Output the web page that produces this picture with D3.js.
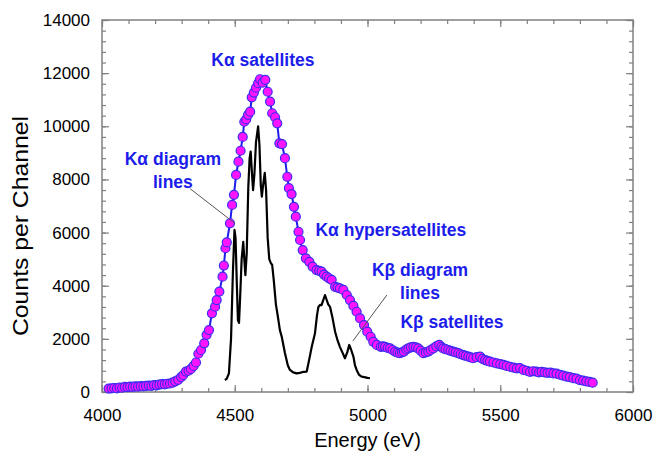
<!DOCTYPE html>
<html>
<head>
<meta charset="utf-8">
<script src="https://cdn.jsdelivr.net/npm/d3@7"></script>
<style>
  body { margin: 0; background: #fff; }
  text { font-family: "Liberation Sans", Arial, sans-serif; }
</style>
</head>
<body>
<div id="chart"></div>
<script>
// measured spectrum (blue line + magenta markers)
const satEnergy = [
  4025, 4036, 4046, 4056, 4066, 4076, 4086, 4096, 4106, 4116, 4126, 4136, 4146, 4156, 4166,
  4176, 4186, 4196, 4206, 4216, 4226, 4236, 4246, 4256, 4266, 4276, 4287, 4298, 4306, 4316,
  4326, 4335, 4345, 4354, 4363, 4373, 4385, 4394, 4403, 4414, 4426, 4432, 4442, 4454, 4459,
  4465, 4470, 4482, 4490, 4497, 4505, 4514, 4522, 4530, 4536, 4543, 4550, 4558, 4564, 4572,
  4580, 4588, 4595, 4605, 4615, 4624, 4633, 4641, 4652, 4660, 4668, 4678, 4689, 4698, 4704,
  4714, 4723, 4730, 4740, 4746, 4756, 4768, 4781, 4793, 4808, 4818, 4827, 4836, 4846, 4855,
  4865, 4878, 4887, 4896, 4909, 4922, 4934, 4947, 4959, 4972, 4987, 4999, 5012, 5022, 5035,
  5050, 5058, 5066, 5076, 5085, 5094, 5104, 5113, 5122, 5130, 5137, 5146, 5154, 5163, 5173,
  5182, 5191, 5200, 5210, 5220, 5229, 5238, 5248, 5259, 5270, 5278, 5285, 5294, 5304, 5313,
  5323, 5332, 5342, 5351, 5361, 5370, 5380, 5389, 5398, 5411, 5424, 5433, 5443, 5452, 5461,
  5474, 5487, 5500, 5512, 5524, 5537, 5550, 5562, 5574, 5587, 5600, 5612, 5624, 5636, 5646,
  5656, 5667, 5678, 5689, 5700, 5712, 5725, 5737, 5750, 5762, 5775, 5787, 5800, 5812, 5824,
  5836, 5848
];
const satCounts = [
  130, 140, 150, 140, 170, 160, 190, 180, 200, 190, 210, 200, 220, 210, 230,
  240, 230, 260, 250, 280, 300, 290, 310, 320, 350, 400, 460, 560, 640, 770,
  800, 870, 980, 1110, 1440, 1580, 1830, 2150, 2330, 2960, 3210, 3460, 3780, 4340, 4760,
  5410, 5630, 6350, 7040, 7420, 8170, 8670, 9080, 9600, 10170, 10260, 10430, 10550, 11090, 11270,
  11450, 11620, 11770, 11640, 11750, 11300, 10930, 10490, 10340, 10110, 9360, 9330, 8800, 8100, 7670,
  7450, 6970, 6600, 6030, 5720, 5340, 5030, 4900, 4720, 4590, 4560, 4530, 4420, 4340, 4280,
  4220, 3960, 3930, 3900, 3840, 3650, 3460, 3240, 3020, 2770, 2520, 2270, 2080, 1890, 1770,
  1700, 1720, 1700, 1660, 1640, 1580, 1520, 1480, 1460, 1490, 1520, 1600, 1640, 1680, 1700,
  1680, 1640, 1560, 1460, 1490, 1520, 1580, 1640, 1720, 1770, 1700, 1640, 1610, 1580, 1550,
  1520, 1490, 1460, 1420, 1390, 1360, 1330, 1300, 1270, 1310, 1330, 1250, 1200, 1170, 1140,
  1110, 1080, 1050, 1020, 980, 950, 920, 890, 900, 830, 800, 760, 780, 770, 740,
  760, 740, 720, 730, 700, 690, 650, 620, 580, 560, 520, 500, 450, 430, 400,
  380, 350
];

// high resolution spectrum (black line)
const diagEnergy = [
  4463, 4470, 4478, 4486, 4493, 4499, 4503, 4508, 4512, 4516, 4520, 4526, 4532, 4536, 4540,
  4545, 4551, 4556, 4560, 4565, 4569, 4574, 4580, 4588, 4593, 4598, 4602, 4607, 4613, 4618,
  4624, 4630, 4636, 4641, 4647, 4655, 4663, 4670, 4677, 4689, 4700, 4708, 4720, 4733, 4745,
  4760, 4771, 4780, 4790, 4802, 4810, 4815, 4821, 4827, 4833, 4840, 4845, 4852, 4859, 4868,
  4878, 4887, 4896, 4905, 4915, 4924, 4931, 4938, 4947, 4953, 4959, 4968, 4978, 4988, 5000,
  5009
];
const diagCounts = [
  450, 500, 700, 2000, 4500, 6100, 5800, 4000, 2700, 2600, 3500, 5000, 5650, 5000, 4400,
  5200, 7700, 8800, 9050, 8200, 7600, 8200, 9400, 10000, 9300, 7800, 7350, 7800, 8250, 7600,
  5800, 5000, 4850, 4780, 4200, 3300, 2800, 2330, 2080, 1470, 1000, 830, 740, 700, 720,
  760, 770, 1200, 1700, 2200, 2900, 3200, 3280, 3270, 3450, 3650, 3500, 3300, 3200, 2800,
  2270, 1950, 1700, 1500, 1270, 1500, 1770, 1600, 1330, 1000, 830, 650, 580, 560, 530,
  520
];

const xMajor = [4000, 4500, 5000, 5500, 6000];
const yMajor = [0, 2000, 4000, 6000, 8000, 10000, 12000, 14000];

// annotation anchors (energy, counts) = text centre / baseline
const labels = [
  { text: ["K\u03b1 satellites"], x: 4606, y: 12270 },
  { text: ["K\u03b1 diagram", "lines"], x: 4267, y: 8540 },
  { text: ["K\u03b1 hypersatellites"], x: 5088, y: 5870 },
  { text: ["K\u03b2 diagram", "lines"], x: 5198, y: 4370 },
  { text: ["K\u03b2 satellites"], x: 5318, y: 2410 }
];
const leaders = [
  { x1: 4332, y1: 7650, x2: 4500, y2: 6350 },
  { x1: 5073, y1: 3650, x2: 4945, y2: 1920 }
];

const width = 654, height = 458;
const margin = { top: 20, right: 21, bottom: 66, left: 102 };
const iw = width - margin.left - margin.right;
const ih = height - margin.top - margin.bottom;
const blue = "#1c1ceb";

const x = d3.scaleLinear().domain([4000, 6000]).range([0, iw]);
const y = d3.scaleLinear().domain([0, 14000]).range([ih, 0]);

const svg = d3.select("#chart").append("svg")
  .attr("width", width)
  .attr("height", height);

const g = svg.append("g")
  .attr("transform", `translate(${margin.left},${margin.top})`);

// ticks on all four sides, pointing inward
const tickColor = "#808080";
const xMinor = d3.range(4000, 6001, 100);
const yMinor = d3.range(0, 14001, 400);

function sideAxis(axis, tr) {
  const a = g.append("g").attr("transform", tr).call(axis);
  a.select(".domain").remove();
  a.selectAll("line").attr("stroke", tickColor).attr("stroke-width", 1.2);
  return a;
}

sideAxis(d3.axisTop(x).tickValues(xMinor).tickSize(4).tickFormat(""), `translate(0,${ih})`);
sideAxis(d3.axisTop(x).tickValues(xMajor).tickSize(7).tickFormat(""), `translate(0,${ih})`);
sideAxis(d3.axisBottom(x).tickValues(xMinor).tickSize(4).tickFormat(""), "translate(0,0)");
sideAxis(d3.axisBottom(x).tickValues(xMajor).tickSize(7).tickFormat(""), "translate(0,0)");
sideAxis(d3.axisRight(y).tickValues(yMinor).tickSize(4).tickFormat(""), "translate(0,0)");
sideAxis(d3.axisRight(y).tickValues(yMajor).tickSize(7).tickFormat(""), "translate(0,0)");
sideAxis(d3.axisLeft(y).tickValues(yMinor).tickSize(4).tickFormat(""), `translate(${iw},0)`);
sideAxis(d3.axisLeft(y).tickValues(yMajor).tickSize(7).tickFormat(""), `translate(${iw},0)`);

// tick labels
const xl = g.append("g")
  .attr("transform", `translate(0,${ih})`)
  .call(d3.axisBottom(x).tickValues(xMajor).tickSize(0).tickPadding(17).tickFormat(d3.format("d")));
xl.select(".domain").remove();
xl.selectAll("text").attr("font-size", 17).attr("fill", "#000")
  .attr("font-family", "Liberation Sans, Arial, sans-serif");

const yl = g.append("g")
  .call(d3.axisLeft(y).tickValues(yMajor).tickSize(0).tickPadding(12).tickFormat(d3.format("d")));
yl.select(".domain").remove();
yl.selectAll("text").attr("font-size", 17).attr("fill", "#000")
  .attr("font-family", "Liberation Sans, Arial, sans-serif");

// frame
g.append("rect")
  .attr("width", iw).attr("height", ih)
  .attr("fill", "none")
  .attr("stroke", tickColor)
  .attr("stroke-width", 1.5);

// black line
const diag = diagEnergy.map((e, i) => [e, diagCounts[i]]);
g.append("path")
  .datum(diag)
  .attr("fill", "none")
  .attr("stroke", "#000")
  .attr("stroke-width", 2.2)
  .attr("stroke-linejoin", "round")
  .attr("d", d3.line().x(d => x(d[0])).y(d => y(d[1])));

// blue line + markers
const sat = satEnergy.map((e, i) => [e, satCounts[i]]);
g.append("path")
  .datum(sat)
  .attr("fill", "none")
  .attr("stroke", blue)
  .attr("stroke-width", 2)
  .attr("d", d3.line().x(d => x(d[0])).y(d => y(d[1])));

g.append("g")
  .selectAll("circle")
  .data(sat)
  .join("circle")
  .attr("cx", d => x(d[0]))
  .attr("cy", d => y(d[1]))
  .attr("r", 4.5)
  .attr("fill", "#ff14ff")
  .attr("stroke", "#3a2cf0")
  .attr("stroke-width", 1.2);

// leader lines
g.append("g")
  .selectAll("line")
  .data(leaders)
  .join("line")
  .attr("x1", d => x(d.x1)).attr("y1", d => y(d.y1))
  .attr("x2", d => x(d.x2)).attr("y2", d => y(d.y2))
  .attr("stroke", "#555")
  .attr("stroke-width", 1);

// annotations
const ann = g.append("g")
  .selectAll("text")
  .data(labels)
  .join("text")
  .attr("x", d => x(d.x))
  .attr("y", d => y(d.y))
  .attr("text-anchor", "middle")
  .attr("font-size", 17.5)
  .attr("font-weight", "bold")
  .attr("fill", blue);
ann.selectAll("tspan")
  .data(d => d.text.map(t => ({ t, x: d.x })))
  .join("tspan")
  .attr("x", d => x(d.x))
  .attr("dy", (d, i) => i === 0 ? 0 : 23)
  .text(d => d.t);

// axis titles
svg.append("text")
  .attr("x", margin.left + iw / 2)
  .attr("y", 447)
  .attr("text-anchor", "middle")
  .attr("font-size", 20)
  .text("Energy (eV)");

svg.append("text")
  .attr("transform", `translate(28,226) rotate(-90)`)
  .attr("text-anchor", "middle")
  .attr("font-size", 22)
  .attr("textLength", 220)
  .attr("lengthAdjust", "spacingAndGlyphs")
  .text("Counts per Channel");
</script>
</body>
</html>
